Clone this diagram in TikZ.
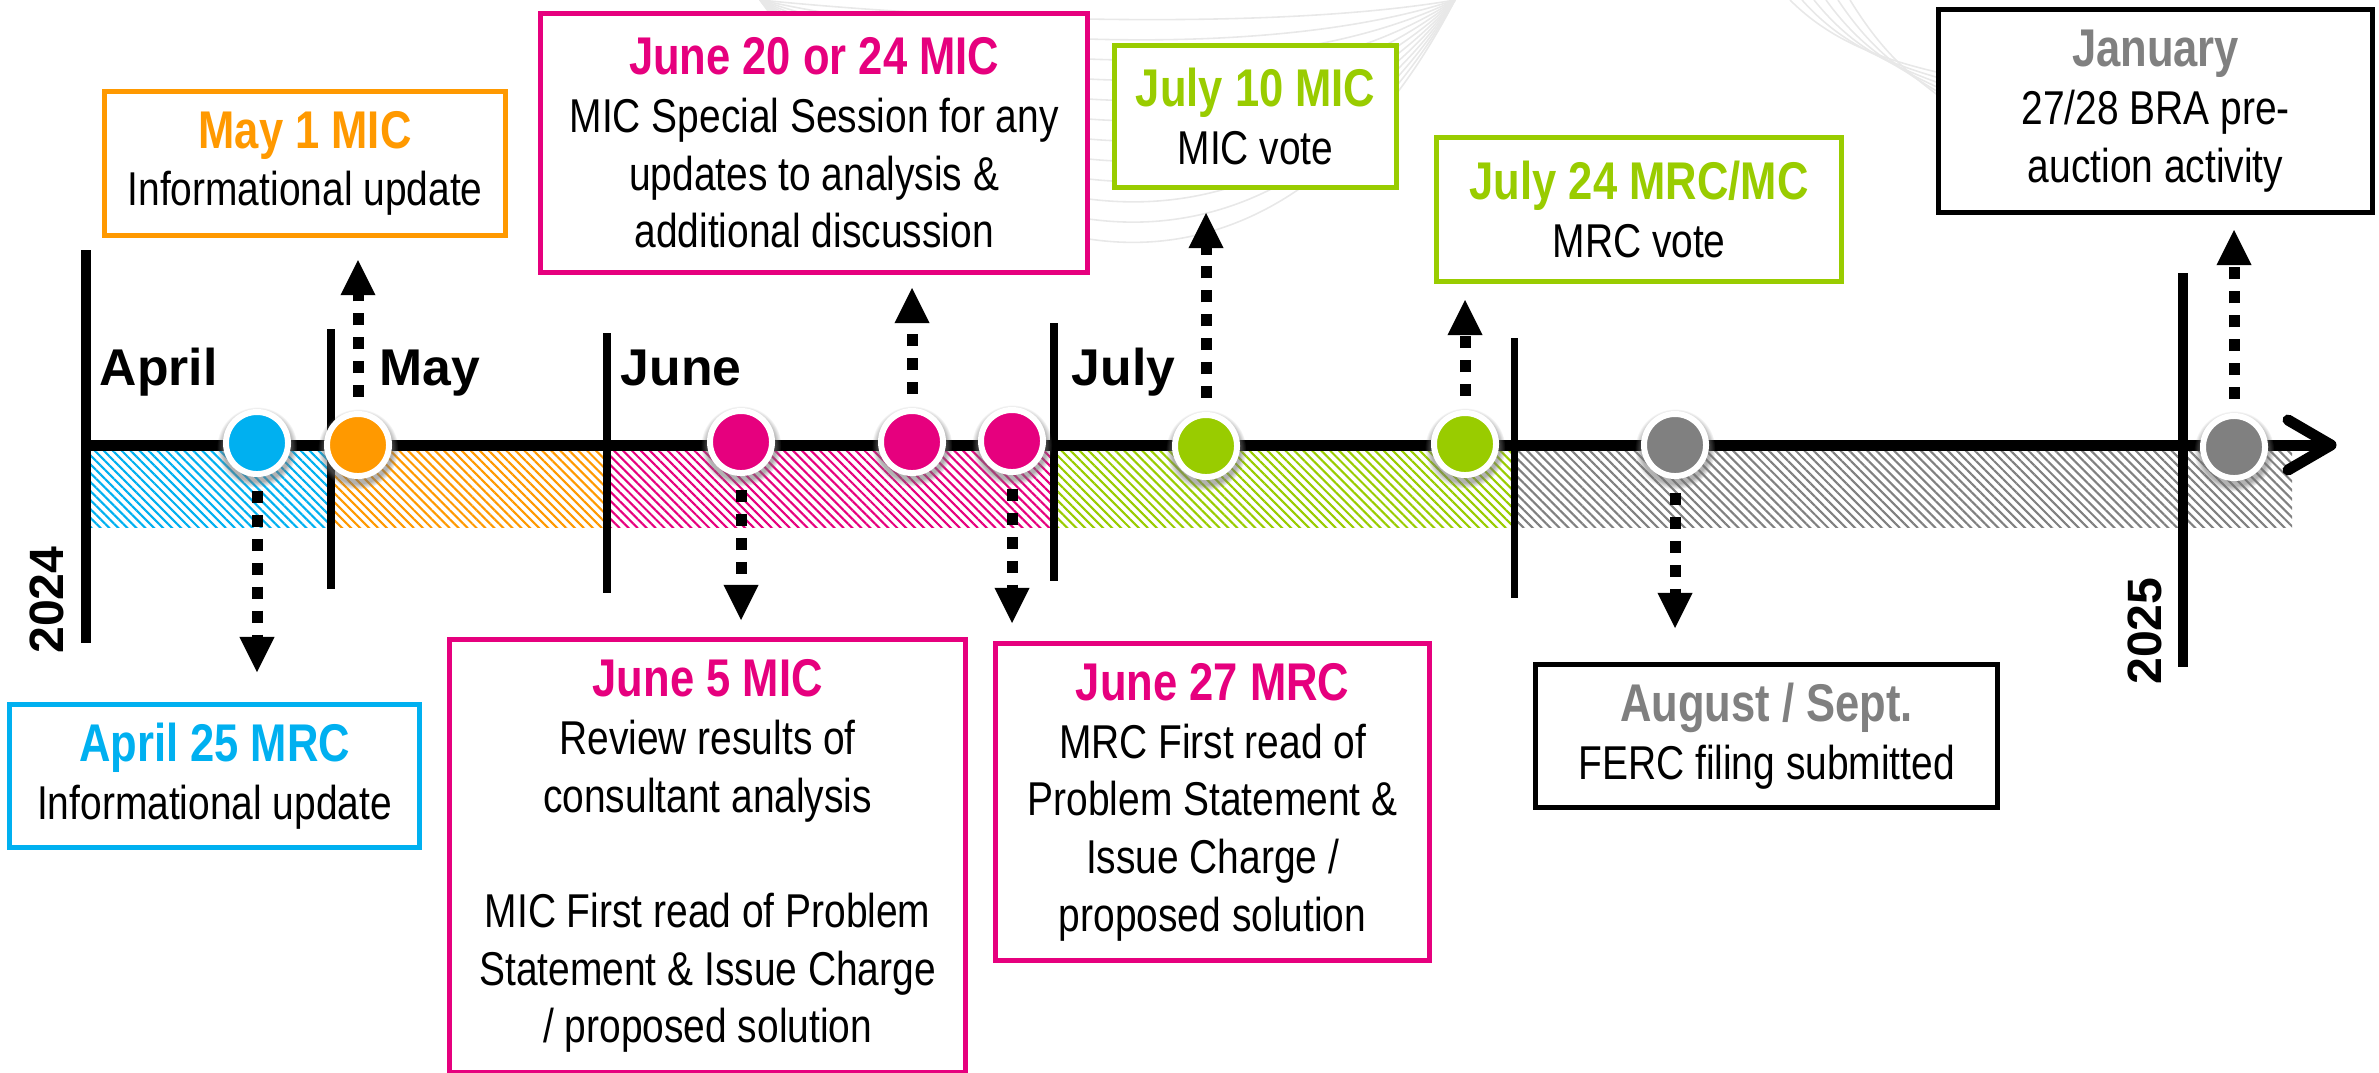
\documentclass[tikz,border=0pt]{standalone}
\usepackage{fontspec}
\setmainfont{Liberation Sans}[FakeStretch=0.82]
\newfontfamily\wideff{Liberation Sans}
\usetikzlibrary{arrows.meta,patterns.meta,shadows,fadings}
\definecolor{cblue}{HTML}{00B0F0}
\definecolor{corange}{HTML}{FF9900}
\definecolor{cpink}{HTML}{E6007E}
\definecolor{cgreen}{HTML}{99CC00}
\definecolor{cgrey}{HTML}{808080}
\newcommand{\evtitle}[2]{{\color{#1}\bfseries\fontsize{15.1pt}{16.4pt}\selectfont #2}}
\begin{document}
\begin{tikzpicture}[x=0.01cm,y=-0.01cm,
  evbox/.style={draw=#1, fill=white, line width=1.42pt, inner sep=0pt, align=center,
    anchor=north west, font=\fontsize{13.5pt}{16.4pt}\selectfont},
  mdot/.style={circle, inner sep=0pt, minimum size=0.62cm, fill=#1, draw=white, line width=1.7pt,
    circular drop shadow={shadow xshift=0pt, shadow yshift=-0.9pt, shadow scale=1.3, opacity=0.55, fill=black!55}},
  darrow/.style={line width=3.13pt, dash pattern=on 3.4pt off 3.4pt, shorten <=0.14cm,
    -{Triangle[length=10pt,width=10pt,line width=0pt]}},
  axisline/.style={line width=3.13pt},
  divline/.style={line width=2pt},
  yearline/.style={line width=3.1pt},
  hatch/.style={pattern={Lines[angle=-45,distance=1.8pt,line width=0.6pt]}, pattern color=#1},
  monthlbl/.style={anchor=base west, inner sep=0pt, font=\wideff\bfseries\fontsize{14.7pt}{17pt}\selectfont},
  yearlbl/.style={rotate=90, inner sep=0pt, font=\wideff\bfseries\fontsize{13.7pt}{16pt}\selectfont},
  swoosh/.style={draw=gray!18, line width=0.45pt}
]
\path[use as bounding box] (0,0) rectangle (2379,1072);

% faint background swoosh
\foreach \k in {0,...,11}
  \draw[swoosh] (760,0) .. controls (980,{22+26*\k}) and (1280,{30+28*\k}) .. (1455,0);
\foreach \k in {0,...,5}
  \draw[swoosh] ({1790+12*\k},0) .. controls ({1830+12*\k},{40+5*\k}) and ({1880+8*\k},{60+4*\k}) .. (1950,{75+6*\k});

% hatched band
\fill[hatch=cblue]   (86,445) rectangle (331,527);
\fill[hatch=corange] (331,445) rectangle (607,527);
\fill[hatch=cpink]   (607,445) rectangle (1054,527);
\fill[hatch=cgreen]  (1054,445) rectangle (1514,527);
\fill[hatch=cgrey]   (1514,445) rectangle (2292,527);

% axis
\coordinate (aL) at (86,445);
\coordinate (aR) at (2326,445);
\draw[axisline] (aL) -- (aR);
\coordinate (chA) at (2288,420);
\coordinate (chT) at (2331,445);
\coordinate (chB) at (2288,470);
\draw[axisline, line cap=round, line join=round] (chA) -- (chT) -- (chB);

% year and month lines
\draw[yearline] (86,250) -- (86,643);
\draw[yearline] (2183,273) -- (2183,667);
\draw[divline] (331,329) -- (331,589);
\draw[divline] (607,333) -- (607,593);
\draw[divline] (1054,323) -- (1054,581);
\draw[divline] (1514,338) -- (1514,598);

% labels
\node[monthlbl] (lApr) at (99,385) {April};
\node[monthlbl] (lMay) at (379,385) {May};
\node[monthlbl] (lJun) at (620,385) {June};
\node[monthlbl] (lJul) at (1071,385) {July};
\node[yearlbl] (y24) at (47,600) {2024};
\node[yearlbl] (y25) at (2145,631) {2025};

% event dots
\node[mdot=cblue]   (cApr) at (257,443) {};
\node[mdot=corange] (cMay) at (358,445) {};
\node[mdot=cpink]   (cJ5)  at (741,442) {};
\node[mdot=cpink]   (cJ20) at (912,442) {};
\node[mdot=cpink]   (cJ27) at (1012,441) {};
\node[mdot=cgreen]  (cJl10) at (1206,446) {};
\node[mdot=cgreen]  (cJl24) at (1465,444) {};
\node[mdot=cgrey]   (cAug) at (1675,445) {};
\node[mdot=cgrey]   (cJan) at (2234,447) {};

% arrow ends
\coordinate (tApr) at (257,672);
\coordinate (tMay) at (358,260);
\coordinate (tJ5) at (741,620);
\coordinate (tJ20) at (912,288);
\coordinate (tJ27) at (1012,623);
\coordinate (tJl10) at (1206,213);
\coordinate (tJl24) at (1465,300);
\coordinate (tAug) at (1675,628);
\coordinate (tJan) at (2234,230);
\draw[darrow] (cApr) -- (tApr);
\draw[darrow] (cMay) -- (tMay);
\draw[darrow] (cJ5) -- (tJ5);
\draw[darrow] (cJ20) -- (tJ20);
\draw[darrow] (cJ27) -- (tJ27);
\draw[darrow] (cJl10) -- (tJl10);
\draw[darrow] (cJl24) -- (tJl24);
\draw[darrow] (cAug) -- (tAug);
\draw[darrow] (cJan) -- (tJan);

% boxes
\node[evbox=cblue, minimum width=4.10cm, minimum height=1.43cm] (bApr) at (7,702)
  {\evtitle{cblue}{April 25 MRC}\\Informational update};
\node[evbox=corange, minimum width=4.01cm, minimum height=1.44cm] (bMay) at (102,89)
  {\evtitle{corange}{May 1 MIC}\\Informational update};
\node[evbox=cpink, minimum width=5.47cm, minimum height=2.59cm] (bJ20) at (538,11)
  {\evtitle{cpink}{June 20 or 24 MIC}\\MIC Special Session for any\\updates to analysis \&\\additional discussion};
\node[evbox=cpink, minimum width=5.16cm, minimum height=4.33cm] (bJ5) at (447,637)
  {\evtitle{cpink}{June 5 MIC}\\Review results of\\consultant analysis\\[16.4pt]MIC First read of Problem\\Statement \& Issue Charge\\/ proposed solution};
\node[evbox=cpink, minimum width=4.34cm, minimum height=3.17cm] (bJ27) at (993,641)
  {\evtitle{cpink}{June 27 MRC}\\MRC First read of\\Problem Statement \&\\Issue Charge /\\proposed solution};
\node[evbox=cgreen, minimum width=2.82cm, minimum height=1.42cm] (bJl10) at (1112,43)
  {\evtitle{cgreen}{July 10 MIC}\\MIC vote};
\node[evbox=cgreen, minimum width=4.05cm, minimum height=1.44cm] (bJl24) at (1434,135)
  {\evtitle{cgreen}{July 24 MRC/MC}\\MRC vote};
\node[evbox=black, minimum width=4.62cm, minimum height=1.43cm] (bAug) at (1533,662)
  {\evtitle{cgrey}{August / Sept.}\\FERC filing submitted};
\node[evbox=black, minimum width=4.34cm, minimum height=2.03cm] (bJan) at (1936,7)
  {\evtitle{cgrey}{January}\\27/28 BRA pre-\\auction activity};
\end{tikzpicture}
\end{document}
